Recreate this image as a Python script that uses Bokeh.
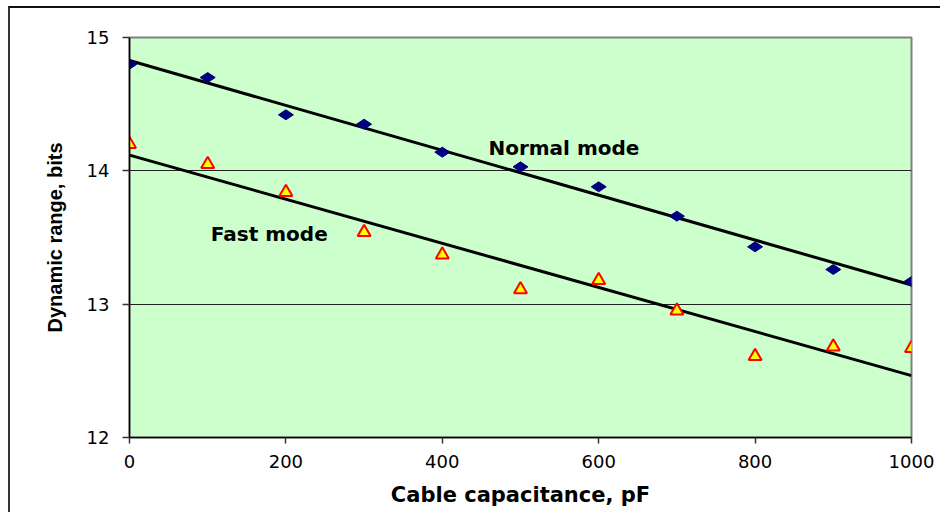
import numpy as np
from bokeh.plotting import figure
from bokeh.models import FixedTicker, ColumnDataSource
from bokeh.core.properties import value
from bokeh.embed import file_html
from bokeh.resources import INLINE

# --- data ---
capacitance = [0, 100, 200, 300, 400, 500, 600, 700, 800, 900, 1000]
normal_mode = [14.80, 14.70, 14.42, 14.35, 14.14, 14.03, 13.88, 13.66, 13.43, 13.26, 13.17]
fast_mode = [14.20, 14.05, 13.84, 13.54, 13.37, 13.11, 13.18, 12.95, 12.61, 12.68, 12.67]
x_ticks = [0, 200, 400, 600, 800, 1000]
y_ticks = [12, 13, 14, 15]
series_labels = ["Normal mode", "Fast mode"]

# trend lines (linear least squares, as in the original spreadsheet)
x_arr = np.array(capacitance, dtype=float)
xl = np.array([capacitance[0], capacitance[-1]], dtype=float)
cn = np.polyfit(x_arr, np.array(normal_mode), 1)
cf = np.polyfit(x_arr, np.array(fast_mode), 1)

p = figure(
    frame_width=782, frame_height=400,
    x_range=(0, 1000), y_range=(12, 15),
    output_backend="svg", toolbar_location=None,
    background_fill_color="#CCFFCC", border_fill_color="white",
    min_border_left=119, min_border_top=29, min_border_right=29, min_border_bottom=75,
    styles={"margin-top": "6px", "margin-left": "8px",
            "border-top": "2px solid #111111", "border-left": "2px solid #333333"},
)

p.outline_line_color = "#808080"
p.outline_line_width = 2

p.xgrid.visible = False
p.ygrid.grid_line_color = "#222222"
p.ygrid.grid_line_width = 1
p.ygrid.ticker = FixedTicker(ticks=y_ticks)

for ax in (p.xaxis[0], p.yaxis[0]):
    ax.axis_line_color = "black"
    ax.axis_line_width = 1.5
    ax.major_tick_line_color = "#333333"
    ax.major_tick_line_width = 1.5
    ax.major_tick_in = 0
    ax.minor_tick_line_color = None
    ax.major_label_text_font = "DejaVu Sans"
    ax.major_label_text_font_size = "18px"
    ax.major_label_text_color = "black"
    ax.axis_label_text_color = "black"
    ax.axis_label_text_font_style = "bold"

p.xaxis.ticker = FixedTicker(ticks=x_ticks)
p.yaxis.ticker = FixedTicker(ticks=y_ticks)
p.xaxis.major_tick_out = 6
p.yaxis.major_tick_out = 7
p.xaxis.major_label_standoff = 11
p.yaxis.major_label_standoff = 13

p.xaxis.axis_label = "Cable capacitance, pF"
p.xaxis.axis_label_text_font = "DejaVu Sans"
p.xaxis.axis_label_text_font_size = "21px"
p.xaxis.axis_label_standoff = 12

p.yaxis.axis_label = "Dynamic range, bits"
p.yaxis.axis_label_text_font = "Liberation Sans"
p.yaxis.axis_label_text_font_size = "20px"
p.yaxis.axis_label_standoff = 18

# trend lines
p.line(xl, np.polyval(cn, xl), line_color="black", line_width=3)
p.line(xl, np.polyval(cf, xl), line_color="black", line_width=3)

# markers
p.scatter(capacitance, normal_mode, marker="diamond", size=15, angle=np.pi / 2,
          fill_color="#000080", line_color="#000080")
p.scatter(capacitance, fast_mode, marker="triangle", size=13,
          fill_color="#FFFF00", line_color="#FF0000", line_width=2)

# labels
lab = ColumnDataSource(dict(x=[459, 104], y=[14.175, 13.53], t=series_labels))
p.text(x="x", y="y", text="t", source=lab, text_font=value("DejaVu Sans"),
       text_font_style="bold", text_font_size="20px", text_color="black",
       text_align="left", text_baseline="middle")

open("out.html", "w").write(file_html(p, INLINE))
